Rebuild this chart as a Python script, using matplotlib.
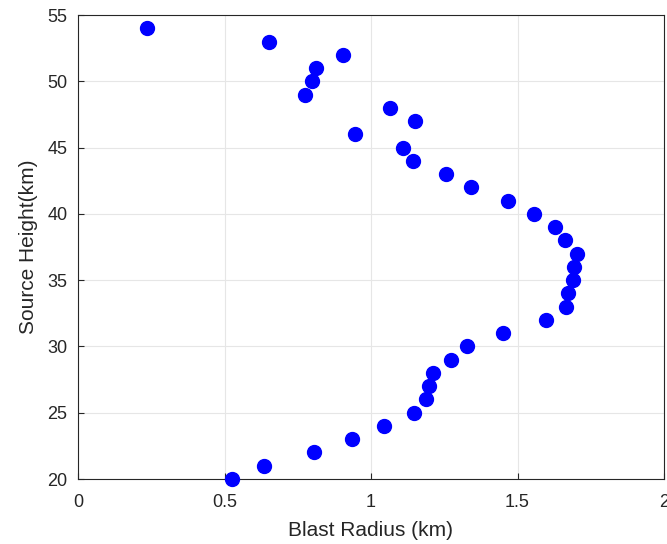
import matplotlib
matplotlib.use("Agg")
import matplotlib.pyplot as plt

plt.rcParams['font.family'] = ['Liberation Sans', 'DejaVu Sans']

blast_radius = [0.236, 0.651, 0.904, 0.812, 0.798, 0.774, 1.065, 1.151, 0.945, 1.110,
                1.144, 1.257, 1.342, 1.469, 1.558, 1.627, 1.661, 1.702, 1.692, 1.688,
                1.671, 1.664, 1.596, 1.449, 1.329, 1.274, 1.212, 1.199, 1.188, 1.147,
                1.045, 0.935, 0.805, 0.634, 0.527]
source_height = [54, 53, 52, 51, 50, 49, 48, 47, 46, 45,
                 44, 43, 42, 41, 40, 39, 38, 37, 36, 35,
                 34, 33, 32, 31, 30, 29, 28, 27, 26, 25,
                 24, 23, 22, 21, 20]
xticks = [0, 0.5, 1, 1.5, 2]
xticklabels = ['0', '0.5', '1', '1.5', '2']
yticks = [20, 25, 30, 35, 40, 45, 50, 55]

fig = plt.figure(figsize=(6.67, 5.44), dpi=100)
ax = fig.add_axes([78/667, 1-479/544, (664-78)/667, (479-15)/544])
ax.plot(blast_radius, source_height, 'o', color='#0000ff', markersize=10, clip_on=False, zorder=3)
ax.set_xlim(0, 2)
ax.set_ylim(20, 55)
ax.set_xticks(xticks)
ax.set_xticklabels(xticklabels)
ax.set_yticks(yticks)
ax.grid(True, color='#e6e6e6', linewidth=0.8)
ax.set_axisbelow(True)
for s in ax.spines.values():
    s.set_color('#262626')
    s.set_linewidth(0.8)
ax.tick_params(direction='in', length=4, width=0.8, colors='#262626', labelsize=13,
               top=False, right=False)
ax.tick_params(axis='x', pad=11)
ax.tick_params(axis='y', pad=7.5)
ax.set_xlabel('Blast Radius (km)', fontsize=15, color='#262626', labelpad=7)
ax.set_ylabel('Source Height(km)', fontsize=15, color='#262626', labelpad=7)
fig.savefig('out.png', dpi=100)
